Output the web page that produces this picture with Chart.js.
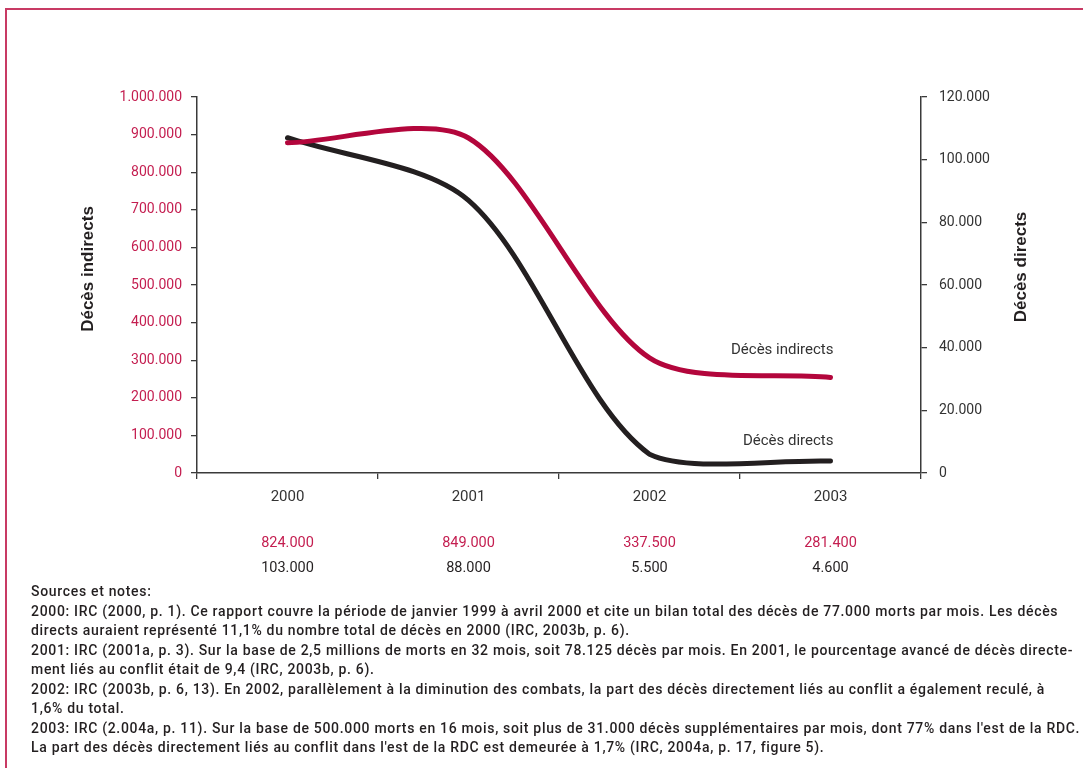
<!DOCTYPE html>
<html>
<head>
<meta charset="utf-8">
<script src="https://cdn.jsdelivr.net/npm/chart.js@4/dist/chart.umd.min.js"></script>
<style>
    html, body { margin: 0; padding: 0; background: #fff; overflow: hidden; }
    #page { position: relative; width: 1083px; height: 768px; }
    #frame {
        position: absolute; left: 5px; top: 8px; width: 1090px; height: 780px;
        border-left: 2px solid #c83a64; border-top: 2px solid #c83a64;
    }
    #myChart { position: absolute; left: 0; top: 0; }
    #notes {
        position: absolute; left: 31px; top: 582px;
        font-family: Roboto, sans-serif; font-size: 14px; font-weight: 500;
        letter-spacing: 0.68px; line-height: 19.5px; color: #231f20;
    }
    #notes div { white-space: nowrap; }
</style>
</head>
<body>
<div id="page">
    <div id="frame"></div>
    <canvas id="myChart" width="1083" height="590"></canvas>
    <div id="notes">
        <div>Sources et notes:</div>
        <div>2000: IRC (2000, p. 1). Ce rapport couvre la période de janvier 1999 à avril 2000 et cite un bilan total des décès de 77.000 morts par mois. Les décès</div>
        <div>directs auraient représenté 11,1% du nombre total de décès en 2000 (IRC, 2003b, p. 6).</div>
        <div>2001: IRC (2001a, p. 3). Sur la base de 2,5 millions de morts en 32 mois, soit 78.125 décès par mois. En 2001, le pourcentage avancé de décès directe-</div>
        <div>ment liés au conflit était de 9,4 (IRC, 2003b, p. 6).</div>
        <div>2002: IRC (2003b, p. 6, 13). En 2002, parallèlement à la diminution des combats, la part des décès directement liés au conflit a également reculé, à</div>
        <div>1,6% du total.</div>
        <div>2003: IRC (2.004a, p. 11). Sur la base de 500.000 morts en 16 mois, soit plus de 31.000 décès supplémentaires par mois, dont 77% dans l'est de la RDC.</div>
        <div>La part des décès directement liés au conflit dans l'est de la RDC est demeurée à 1,7% (IRC, 2004a, p. 17, figure 5).</div>
    </div>
</div>
<script>
var years = ["2000", "2001", "2002", "2003"];
// values as drawn by the curves
var indirects = [878000, 891000, 306000, 254000];
var directs = [107000, 87000, 6000, 3800];
// figures printed under the axis
var indirectsTable = ["824.000", "849.000", "337.500", "281.400"];
var directsTable = ["103.000", "88.000", "5.500", "4.600"];

var RED = "#b3063c";
var RED_TXT = "#c41e50";
var DARK = "#231f20";
var AXIS = "#3a3a3a";

function dots(v) {
    return String(v).replace(/\B(?=(\d{3})+(?!\d))/g, ".");
}

function each(arr, fn) {
    for (var i = 0; i < arr.length; i++) fn(i, arr[i]);
}

var extras = {
    id: "extras",
    afterDraw: function(chart) {
        var ctx = chart.ctx;
        var x = chart.scales.x;
        var yl = chart.scales.yLeft;
        var yr = chart.scales.yRight;
        ctx.save();

        // axis titles (both read bottom to top)
        ctx.fillStyle = DARK;
        ctx.font = "bold 17px 'Liberation Sans Narrow', sans-serif";
        ctx.textAlign = "center";
        ctx.textBaseline = "middle";
        ctx.save();
        ctx.translate(88, 269);
        ctx.rotate(-Math.PI / 2);
        ctx.fillText("Décès indirects", 0, 0);
        ctx.restore();
        ctx.save();
        ctx.translate(1021, 267);
        ctx.rotate(-Math.PI / 2);
        ctx.fillText("Décès directs", 0, 0);
        ctx.restore();

        // line labels
        var last = years.length - 1;
        var xr = x.getPixelForValue(last) + 3;
        ctx.font = "15px Roboto, sans-serif";
        ctx.fillStyle = "#333";
        ctx.textAlign = "right";
        ctx.fillText("Décès indirects", xr, yl.getPixelForValue(indirects[last]) - 27);
        ctx.fillText("Décès directs", xr, yr.getPixelForValue(directs[last]) - 20);

        // table under the axis
        ctx.textAlign = "center";
        ctx.font = "14.5px Roboto, sans-serif";
        each(years, function(i) {
            var px = x.getPixelForValue(i);
            ctx.fillStyle = RED_TXT;
            ctx.fillText(indirectsTable[i], px, 543);
            ctx.fillStyle = DARK;
            ctx.fillText(directsTable[i], px, 568);
        });
        ctx.restore();
    }
};

var ctx = document.getElementById("myChart");
var myChart = new Chart(ctx, {
    type: "line",
    data: {
        labels: years,
        datasets: [
            {
                label: "Décès indirects",
                data: indirects,
                yAxisID: "yLeft",
                borderColor: RED,
                borderWidth: 5,
                tension: 0.28,
                pointRadius: 0,
                borderCapStyle: "round",
                fill: false
            },
            {
                label: "Décès directs",
                data: directs,
                yAxisID: "yRight",
                borderColor: DARK,
                borderWidth: 5,
                tension: 0.3,
                pointRadius: 0,
                borderCapStyle: "round",
                fill: false
            }
        ]
    },
    options: {
        responsive: false,
        animation: false,
        layout: { padding: { top: 97, left: 0, right: 0, bottom: 0 } },
        plugins: { legend: { display: false }, tooltip: { enabled: false } },
        scales: {
            x: {
                offset: true,
                grid: { offset: true, drawOnChartArea: false, drawTicks: true, tickLength: 6, color: AXIS, lineWidth: 1.3 },
                border: { display: true, color: AXIS, width: 1.5 },
                ticks: { color: "#333", font: { family: "Roboto", size: 15 }, padding: 9 },
                afterFit: function(scale) { scale.height = 117; }
            },
            yLeft: {
                position: "left",
                min: 0,
                max: 1000000,
                grid: { drawOnChartArea: false, drawTicks: true, tickLength: 6, color: AXIS, lineWidth: 1.3 },
                border: { display: true, color: AXIS, width: 1.5 },
                ticks: {
                    stepSize: 100000,
                    color: RED_TXT,
                    padding: 9,
                    font: { family: "Roboto", size: 14 },
                    callback: function(v) { return dots(v); }
                },
                afterFit: function(scale) { scale.width = 197; }
            },
            yRight: {
                position: "right",
                min: 0,
                max: 120000,
                grid: { drawOnChartArea: false, drawTicks: true, tickLength: 6, color: AXIS, lineWidth: 1.3 },
                border: { display: true, color: AXIS, width: 1.5 },
                ticks: {
                    stepSize: 20000,
                    color: "#333",
                    padding: 12,
                    font: { family: "Roboto", size: 14 },
                    callback: function(v) { return dots(v); }
                },
                afterFit: function(scale) { scale.width = 162; }
            }
        }
    },
    plugins: [extras]
});
</script>
</body>
</html>
